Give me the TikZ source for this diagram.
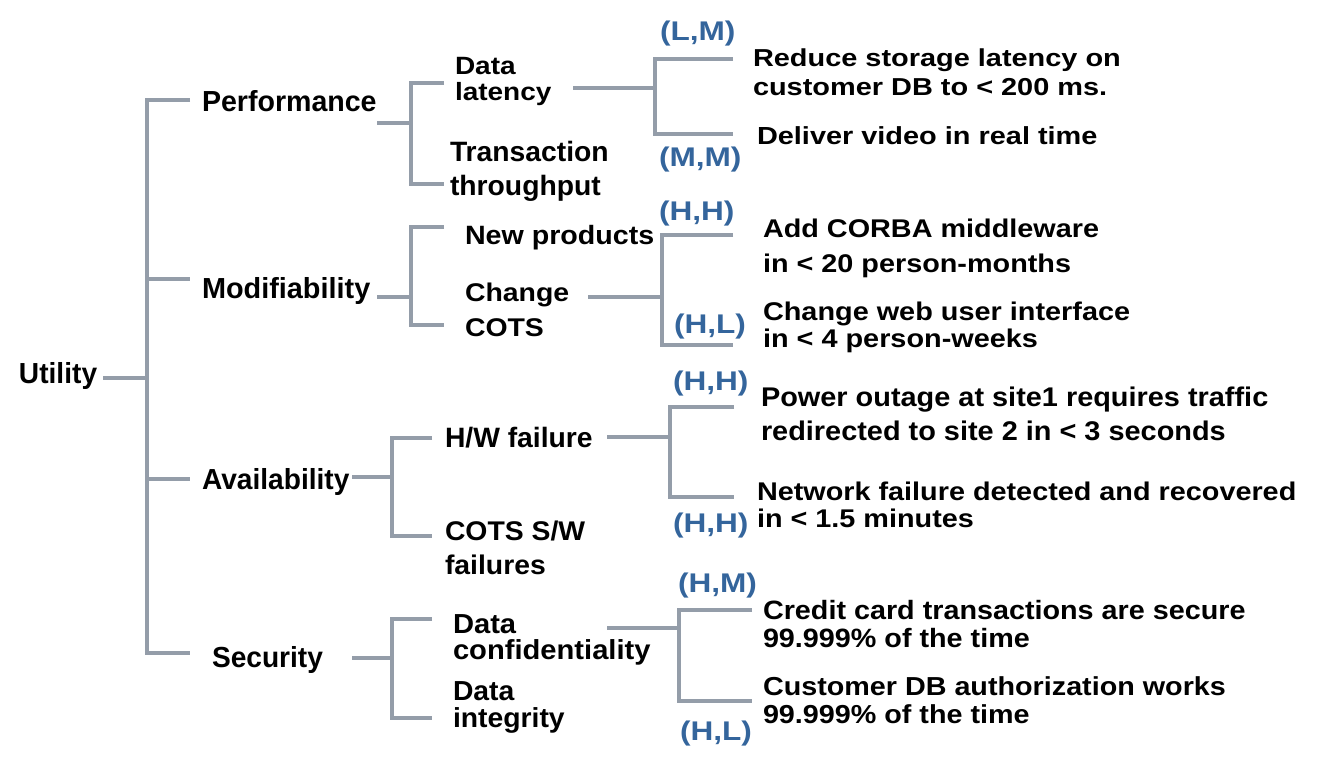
\documentclass[tikz,border=0pt]{standalone}
\usepackage{fontspec}
\setmainfont{Liberation Sans}[Ligatures=NoCommon]
\usepackage{graphicx}
\definecolor{linegray}{RGB}{148,157,169}
\definecolor{prioblue}{RGB}{52,101,156}
\newcommand{\xstretch}[2]{\scalebox{#1}[1]{#2}}
\newcommand{\twoline}[3]{\vtop{\baselineskip=#1\relax\lineskiplimit=-\maxdimen\hbox{#2}\hbox{#3}}}
\newcommand{\bsize}[1]{\fontsize{#1}{#1}\selectfont\bfseries}
\begin{document}
\begin{tikzpicture}[x=1pt,y=-1pt,
  lbl/.style={anchor=base west, inner sep=0pt, outer sep=0pt},
  cat/.style={lbl, font=\bsize{29}},
  prio/.style={lbl, text=prioblue, font=\bsize{27}},
  branch/.style={draw=linegray, line width=4.8pt, line cap=butt, line join=miter}]
\useasboundingbox (0,0) rectangle (1317,758);

% ---------- connectors (named coordinates) ----------
% root
\coordinate (uE) at (103,378);
\coordinate (uJ) at (147,378);
\coordinate (mTop) at (147,100);
\coordinate (mBot) at (147,653);
\coordinate (pS) at (190,100);
\coordinate (mS) at (190,279);
\coordinate (aS) at (190,479);
\coordinate (sS) at (190,653);
\draw[branch] (uE) -- (uJ);
\draw[branch] (pS) -- (mTop) -- (mBot) -- (sS);
\draw[branch] (mTop |- mS) -- (mS);
\draw[branch] (mTop |- aS) -- (aS);

% performance bracket
\coordinate (pE) at (377,123);
\coordinate (pV) at (411,123);
\coordinate (pT) at (444,83);
\coordinate (pB) at (444,184);
\draw[branch] (pE) -- (pV);
\draw[branch] (pT) -- (pV |- pT) -- (pV |- pB) -- (pB);

% modifiability bracket
\coordinate (mdE) at (377,297);
\coordinate (mdV) at (411,297);
\coordinate (mdT) at (444,227);
\coordinate (mdB) at (444,325);
\draw[branch] (mdE) -- (mdV);
\draw[branch] (mdT) -- (mdV |- mdT) -- (mdV |- mdB) -- (mdB);

% availability bracket
\coordinate (aE) at (352,477);
\coordinate (aV) at (392,477);
\coordinate (aT) at (432,438);
\coordinate (aB) at (432,536);
\draw[branch] (aE) -- (aV);
\draw[branch] (aT) -- (aV |- aT) -- (aV |- aB) -- (aB);

% security bracket
\coordinate (sE) at (352,658);
\coordinate (sV) at (392,658);
\coordinate (sT) at (432,619);
\coordinate (sB) at (432,718);
\draw[branch] (sE) -- (sV);
\draw[branch] (sT) -- (sV |- sT) -- (sV |- sB) -- (sB);

% data latency bracket
\coordinate (dlE) at (573,88);
\coordinate (dlV) at (655,88);
\coordinate (dlT) at (733,59);
\coordinate (dlB) at (733,134);
\draw[branch] (dlE) -- (dlV);
\draw[branch] (dlT) -- (dlV |- dlT) -- (dlV |- dlB) -- (dlB);

% change COTS bracket
\coordinate (ccE) at (588,297);
\coordinate (ccV) at (662,297);
\coordinate (ccT) at (733,235);
\coordinate (ccB) at (733,345);
\draw[branch] (ccE) -- (ccV);
\draw[branch] (ccT) -- (ccV |- ccT) -- (ccV |- ccB) -- (ccB);

% H/W failure bracket
\coordinate (hwE) at (607,437);
\coordinate (hwV) at (670,437);
\coordinate (hwT) at (734,407);
\coordinate (hwB) at (734,497);
\draw[branch] (hwE) -- (hwV);
\draw[branch] (hwT) -- (hwV |- hwT) -- (hwV |- hwB) -- (hwB);

% data confidentiality bracket
\coordinate (dcE) at (607,628);
\coordinate (dcV) at (679,628);
\coordinate (dcT) at (752,610);
\coordinate (dcB) at (752,701);
\draw[branch] (dcE) -- (dcV);
\draw[branch] (dcT) -- (dcV |- dcT) -- (dcV |- dcB) -- (dcB);

% ---------- texts ----------
\node[cat] (utility) at (19,383) {\xstretch{0.97}{Utility}};
\node[cat] (perf) at (202,111.5) {\xstretch{0.985}{Performance}};
\node[cat] (modif) at (202,298) {\xstretch{0.995}{Modifiability}};
\node[cat] (avail) at (202,489) {\xstretch{0.97}{Availability}};
\node[cat] (secur) at (212,667) {\xstretch{0.97}{Security}};

\node[lbl, font=\bsize{25}] (datalat) at (455,74.3) {\xstretch{1.12}{\twoline{26pt}{Data}{latency}}};
\node[lbl, font=\bsize{28}] (trans) at (450,161.7) {\xstretch{1.01}{\twoline{33.3pt}{Transaction}{throughput}}};
\node[lbl, font=\bsize{26.5}] (newprod) at (465,244) {\xstretch{1.08}{New products}};
\node[lbl, font=\bsize{25.6}] (chcots) at (465,301.7) {\xstretch{1.11}{\twoline{34.3pt}{Change}{COTS}}};
\node[lbl, font=\bsize{28}] (hwfail) at (445,447.3) {\xstretch{1.01}{H/W failure}};
\node[lbl, font=\bsize{27}] (cotssw) at (445,540) {\xstretch{1.05}{\twoline{34pt}{COTS S/W}{failures}}};
\node[lbl, font=\bsize{27.5}] (dconf) at (453,633) {\xstretch{1.06}{\twoline{26pt}{Data}{confidentiality}}};
\node[lbl, font=\bsize{27.5}] (dint) at (453,700) {\xstretch{1.03}{\twoline{27pt}{Data}{integrity}}};

\node[lbl, font=\bsize{24.5}] (r1) at (753,66.7) {\xstretch{1.18}{\twoline{28.3pt}{Reduce storage latency on}{customer DB to < 200 ms.}}};
\node[lbl, font=\bsize{24.7}] (r2) at (757,144) {\xstretch{1.17}{Deliver video in real time}};
\node[lbl, font=\bsize{25.6}] (r3) at (763,237) {\xstretch{1.125}{\twoline{35pt}{Add CORBA middleware}{in < 20 person-months}}};
\node[lbl, font=\bsize{25.6}] (r4) at (763,320) {\xstretch{1.127}{\twoline{27pt}{Change web user interface}{in < 4 person-weeks}}};
\node[lbl, font=\bsize{27}] (r5) at (761,406) {\xstretch{1.07}{\twoline{34pt}{Power outage at site1 requires traffic}{redirected to site 2 in < 3 seconds}}};
\node[lbl, font=\bsize{25.6}] (r6) at (757,500) {\xstretch{1.125}{\twoline{27pt}{Network failure detected and recovered}{in < 1.5 minutes}}};
\node[lbl, font=\bsize{26.5}] (r7) at (763,619) {\xstretch{1.085}{\twoline{28pt}{Credit card transactions are secure}{99.999\% of the time}}};
\node[lbl, font=\bsize{26}] (r8) at (763,695) {\xstretch{1.105}{\twoline{28pt}{Customer DB authorization works}{99.999\% of the time}}};

\node[prio] (p1) at (660,40) {\xstretch{1.17}{(L,M)}};
\node[prio] (p2) at (659,166) {\xstretch{1.17}{(M,M)}};
\node[prio] (p3) at (659,220) {\xstretch{1.17}{(H,H)}};
\node[prio] (p4) at (674,333) {\xstretch{1.17}{(H,L)}};
\node[prio] (p5) at (673,390) {\xstretch{1.17}{(H,H)}};
\node[prio] (p6) at (673,532) {\xstretch{1.17}{(H,H)}};
\node[prio] (p7) at (678,592) {\xstretch{1.17}{(H,M)}};
\node[prio] (p8) at (680,740) {\xstretch{1.17}{(H,L)}};
\end{tikzpicture}
\end{document}
